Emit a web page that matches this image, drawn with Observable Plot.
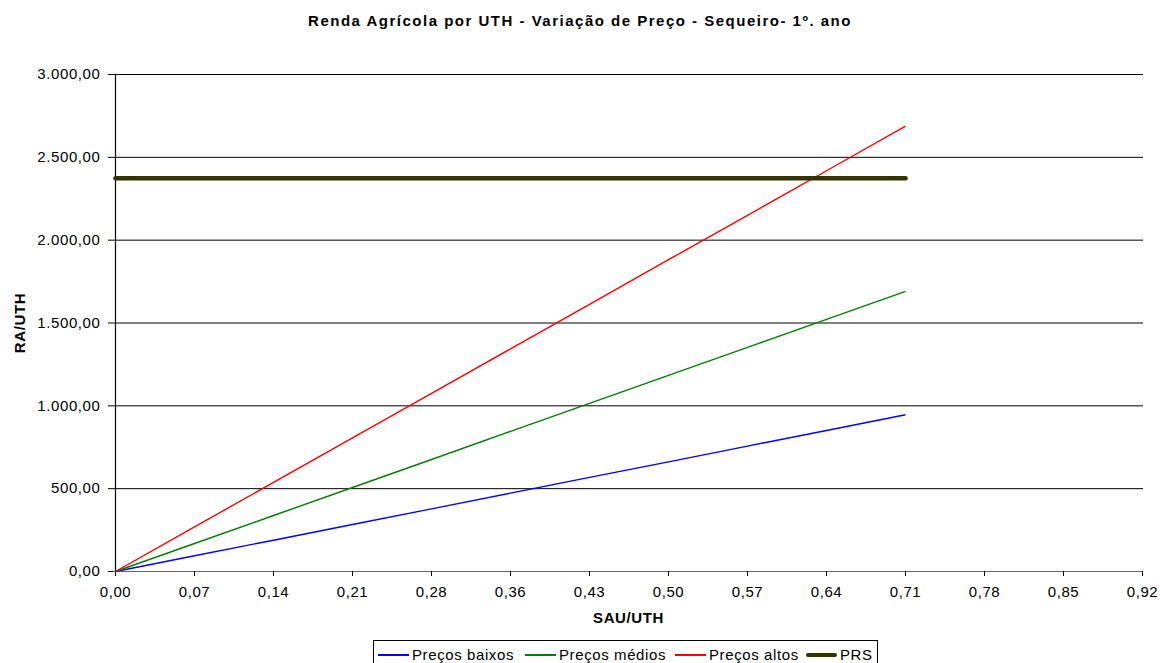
<!DOCTYPE html>
<html>
<head>
<meta charset="utf-8">
<script src="https://cdn.jsdelivr.net/npm/d3@7"></script>
<script src="https://cdn.jsdelivr.net/npm/@observablehq/plot@0.6"></script>
<style>
  html, body { margin: 0; padding: 0; background: #fff; }
  #wrap { position: relative; width: 1160px; height: 663px; overflow: hidden; font-family: "Liberation Sans", Arial, sans-serif; color: #000; }
  #title { position: absolute; top: 13px; left: 0; width: 1160px; text-align: center; font-weight: bold; font-size: 15px; line-height: 15px; letter-spacing: 1.5px; }
  #chart { position: absolute; top: 40px; left: 0; }
  #chart svg text { letter-spacing: 0.6px; }
  #legend { position: absolute; left: 373px; top: 640px; width: 505px; height: 28px; border: 1px solid #000; box-sizing: border-box; font-size: 15px; letter-spacing: 0.6px; }
  .item { position: absolute; top: 6px; height: 16px; line-height: 16px; white-space: nowrap; display: flex; align-items: center; }
  .swatch { display: inline-block; width: 31px; margin-right: 3px; }
</style>
</head>
<body>
<div id="wrap">
  <div id="title">Renda Agrícola por UTH - Variação de Preço - Sequeiro- 1º. ano</div>
  <div id="chart"></div>
  <div id="legend"></div>
</div>
<script>
// X categories (SAU/UTH) as shown on the axis
const xLabels = ["0,00","0,07","0,14","0,21","0,28","0,36","0,43","0,50","0,57","0,64","0,71","0,78","0,85","0,92"];
// Categories that carry data
const sauUth = ["0,00","0,07","0,14","0,21","0,28","0,36","0,43","0,50","0,57","0,64","0,71"];
// Series values (RA/UTH)
const precosBaixos = [0, 95, 189, 284, 378, 473, 568, 662, 757, 851, 946];
const precosMedios = [0, 169, 338, 507, 676, 846, 1015, 1184, 1353, 1522, 1691];
const precosAltos  = [0, 269, 538, 806, 1075, 1344, 1613, 1882, 2150, 2419, 2688];
const prs          = [2374, 2374, 2374, 2374, 2374, 2374, 2374, 2374, 2374, 2374, 2374];
// Y ticks
const yTicks = [0, 500, 1000, 1500, 2000, 2500, 3000];
const yTickLabels = ["0,00","500,00","1.000,00","1.500,00","2.000,00","2.500,00","3.000,00"];

const seriesNames = ["Preços baixos","Preços médios","Preços altos","PRS"];
const seriesValues = [precosBaixos, precosMedios, precosAltos, prs];
const seriesColors = ["#0000ff","#008000","#ff0000","#333300"];
const seriesWidths = [1.4, 1.4, 1.4, 4.5];

const rows = [];
seriesNames.forEach((name, s) => {
  sauUth.forEach((x, i) => rows.push({series: name, x, y: seriesValues[s][i]}));
});

const chart = Plot.plot({
  width: 1160,
  height: 600,
  marginLeft: 113,
  marginRight: 17,
  marginTop: 34,
  marginBottom: 69,
  style: { fontFamily: "'Liberation Sans', Arial, sans-serif", fontSize: "15px", color: "#000", background: "#fff", overflow: "visible" },
  x: { type: "point", domain: xLabels, padding: 0, label: null },
  y: { domain: [0, 3000], label: null },
  marks: [
    Plot.gridY(yTicks, { stroke: "#000", strokeOpacity: 1, strokeWidth: 1 }),
    Plot.ruleY([0], { stroke: "#666", strokeWidth: 1.2 }),
    Plot.ruleX([xLabels[0]], { stroke: "#000", strokeWidth: 1.2 }),
    Plot.axisX({ ticks: xLabels, tickSize: 5, tickPadding: 10, stroke: "#000", fill: "#000", fontSize: 15, label: null }),
    Plot.axisY({ ticks: yTicks, tickFormat: (d) => yTickLabels[yTicks.indexOf(d)], tickSize: 5, tickPadding: 8, stroke: "#000", fill: "#000", fontSize: 15, label: null }),
    ...seriesNames.map((name, s) =>
      Plot.line(rows.filter(r => r.series === name), {
        x: "x", y: "y", stroke: seriesColors[s], strokeWidth: seriesWidths[s],
        strokeLinecap: s === 3 ? "round" : "butt"
      })
    ),
    Plot.text(["SAU/UTH"], { frameAnchor: "bottom", lineAnchor: "middle", textAnchor: "middle", dy: 47, text: d => d, fontWeight: "bold", fontSize: 15, fill: "#000" }),
    Plot.text(["RA/UTH"], { frameAnchor: "left", lineAnchor: "middle", textAnchor: "middle", dx: -93, rotate: -90, text: d => d, fontWeight: "bold", fontSize: 15, fill: "#000" })
  ]
});
document.getElementById("chart").appendChild(chart);

// Legend
const legend = document.getElementById("legend");
const itemLefts = [4, 151, 301, 432];
seriesNames.forEach((name, s) => {
  const it = document.createElement("div");
  it.className = "item";
  it.style.left = itemLefts[s] + "px";
  const sw = document.createElement("span");
  sw.className = "swatch";
  sw.style.height = (s === 3 ? 4 : 1.4) + "px";
  sw.style.background = seriesColors[s];
  if (s === 3) sw.style.borderRadius = "2px";
  const tx = document.createElement("span");
  tx.textContent = name;
  it.appendChild(sw);
  it.appendChild(tx);
  legend.appendChild(it);
});
</script>
</body>
</html>
